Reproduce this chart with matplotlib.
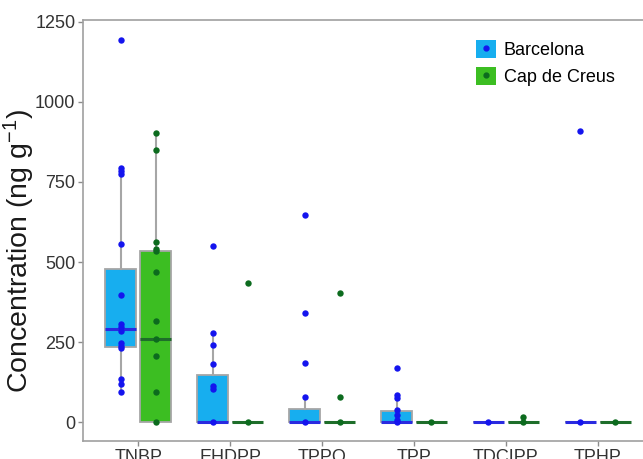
import matplotlib
matplotlib.use("Agg")
import matplotlib.pyplot as plt
from matplotlib.patches import Patch
from matplotlib.lines import Line2D
import numpy as np

plt.rcParams['font.family'] = ['Liberation Sans', 'DejaVu Sans']
plt.rcParams['mathtext.fontset'] = 'custom'
plt.rcParams['mathtext.rm'] = 'Liberation Sans'
plt.rcParams['mathtext.it'] = 'Liberation Sans'

categories = ["TNBP", "EHDPP", "TPPO", "TPP", "TDCIPP", "TPHP"]
sites = ["Barcelona", "Cap de Creus"]

# individual sample points (ng g-1)
bcn_points = [
    [1195, 793, 783, 776, 556, 397, 306, 296, 285, 248, 239, 230, 136, 118, 95],
    [550, 277, 242, 181, 112, 102, 0],
    [647, 340, 185, 79, 0],
    [168, 84, 74, 37, 22, 6, 0],
    [0],
    [909, 0],
]
ccr_points = [
    [904, 850, 562, 541, 533, 469, 317, 259, 208, 93, 0],
    [434, 0],
    [404, 79, 0],
    [0],
    [17, 0],
    [0],
]

# box statistics
bcn_q1 = [235, 0, 0, 0, 0, 0]
bcn_med = [290, 0, 0, 0, 0, 0]
bcn_q3 = [477, 147, 40, 34, 0, 0]
bcn_whislo = [95, 0, 0, 0, 0, 0]
bcn_whishi = [793, 277, 79, 84, 0, 0]

ccr_q1 = [0, 0, 0, 0, 0, 0]
ccr_med = [259, 0, 0, 0, 0, 0]
ccr_q3 = [534, 0, 0, 0, 0, 0]
ccr_whislo = [0, 0, 0, 0, 0, 0]
ccr_whishi = [904, 0, 0, 0, 0, 0]

box_fill = ["#17AEEF", "#3CBE22"]
pt_color = ["#1414EE", "#0C6B1E"]
med_color = ["#2A2AE0", "#1E6E2A"]
edge_gray = "#A6A6A6"

fig = plt.figure(figsize=(6.43, 4.59), dpi=100)
ax = fig.add_axes([83/643, 1-441/459, (653-83)/643, (441-20)/459])

x = np.arange(len(categories))
offset = 0.19
width = 0.34

groups = [
    (bcn_points, bcn_q1, bcn_med, bcn_q3, bcn_whislo, bcn_whishi),
    (ccr_points, ccr_q1, ccr_med, ccr_q3, ccr_whislo, ccr_whishi),
]

for gi, (pts, q1, med, q3, wlo, whi) in enumerate(groups):
    pos = x + (-offset if gi == 0 else offset)
    stats = []
    for i in range(len(categories)):
        stats.append(dict(q1=q1[i], med=med[i], q3=q3[i], whislo=wlo[i], whishi=whi[i], fliers=[]))
    ax.bxp(stats, positions=pos, widths=width, patch_artist=True, showcaps=False,
           showfliers=False,
           boxprops=dict(facecolor=box_fill[gi], edgecolor=edge_gray, linewidth=1.3),
           whiskerprops=dict(color=edge_gray, linewidth=1.5),
           medianprops=dict(color=med_color[gi], linewidth=2.2),
           manage_ticks=False, zorder=2)
    for i in range(len(categories)):
        ax.plot([pos[i]] * len(pts[i]), pts[i], 'o', color=pt_color[gi], ms=4.6,
                mec='none', zorder=4, clip_on=False)

ax.set_xlim(-0.60, 5.60)
ax.set_ylim(-59, 1256)
ax.set_xticks(x)
ax.set_xticklabels(categories)
ax.set_yticks([0, 250, 500, 750, 1000, 1250])
ax.tick_params(axis='both', colors='#8C8C8C', length=3.5, width=1, labelsize=13,
               labelcolor='#333333', pad=2)
for s in ['left', 'bottom', 'top']:
    ax.spines[s].set_color('#A0A0A0')
    ax.spines[s].set_linewidth(1.2)
ax.spines['right'].set_visible(False)
ax.set_ylabel(r'Concentration (ng g$^{-1}$)', fontsize=20.5, color='#1A1A1A')
ax.yaxis.set_label_coords((37 - 83) / 570, (441 - 251) / 421)

handles = [
    (Patch(facecolor=box_fill[0], edgecolor='none'),
     Line2D([], [], marker='o', ls='none', color=pt_color[0], ms=3.5)),
    (Patch(facecolor=box_fill[1], edgecolor='none'),
     Line2D([], [], marker='o', ls='none', color=pt_color[1], ms=3.5)),
]
fig.legend(handles, sites, loc='upper left', bbox_to_anchor=(476/643, 1-40/459),
           bbox_transform=fig.transFigure, frameon=False, fontsize=13,
           handlelength=1.1, handleheight=1.15, labelspacing=0.45,
           handletextpad=0.45, borderpad=0, borderaxespad=0)

fig.savefig("out.png", dpi=100)
